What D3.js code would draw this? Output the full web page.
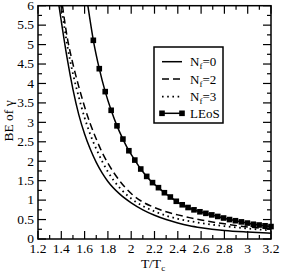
<!DOCTYPE html>
<html><head><meta charset="utf-8">
<script src="https://cdn.jsdelivr.net/npm/d3@7"></script>
<style>body{margin:0;background:#fff}svg{display:block}svg text{font-family:"Liberation Serif","Times New Roman","DejaVu Serif",serif}</style>
</head><body><svg id="c" width="281" height="274"></svg>
<script>
// Data
const nf0T = [1.38,1.40,1.45,1.50,1.55,1.60,1.65,1.70,1.75,1.80,1.90,2.00,2.10,2.20,2.30,2.40,2.50,2.60,2.80,3.00,3.20];
const nf0V = [6.0,5.6,4.65,3.85,3.2,2.7,2.3,1.97,1.70,1.48,1.16,0.93,0.75,0.61,0.50,0.41,0.34,0.29,0.22,0.18,0.15];
const nf2T = [1.41,1.45,1.50,1.55,1.60,1.65,1.70,1.75,1.80,1.90,2.00,2.10,2.20,2.30,2.40,2.50,2.60,2.80,3.00,3.20];
const nf2V = [6.0,5.2,4.5,3.92,3.4,2.95,2.57,2.23,1.95,1.5,1.17,0.95,0.81,0.70,0.62,0.55,0.49,0.39,0.31,0.26];
const nf3T = [1.40,1.45,1.50,1.55,1.60,1.65,1.70,1.75,1.80,1.90,2.00,2.10,2.20,2.30,2.40,2.50,2.60,2.80,3.00,3.20];
const nf3V = [6.0,5.0,4.25,3.65,3.12,2.68,2.32,2.0,1.73,1.32,1.04,0.85,0.71,0.60,0.52,0.46,0.41,0.33,0.27,0.22];
const leosLineT = [1.628];
const leosLineV = [6.0];
const leosT = [1.675,1.726,1.777,1.828,1.878,1.929,1.980,2.031,2.082,2.133,2.183,2.234,2.285,2.336,2.387,2.438,2.488,2.539,2.590,2.641,2.692,2.743,2.793,2.844,2.895,2.946,2.997,3.048,3.098,3.149,3.200];
const leosV = [5.11,4.38,3.79,3.31,2.91,2.57,2.27,2.03,1.80,1.61,1.45,1.32,1.19,1.08,0.97,0.88,0.81,0.75,0.70,0.66,0.62,0.58,0.54,0.50,0.47,0.44,0.41,0.38,0.36,0.34,0.32];
const xTicks = [1.2,1.4,1.6,1.8,2,2.2,2.4,2.6,2.8,3,3.2];
const yTicks = [0,0.5,1,1.5,2,2.5,3,3.5,4,4.5,5,5.5,6];
const legendLabels = ["0","2","3"];

const svg = d3.select("#c");
const L=38, R=271, T=5.7, B=239;
const x = d3.scaleLinear().domain([1.2,3.2]).range([L,R]);
const y = d3.scaleLinear().domain([0,6]).range([B,T]);

svg.append("clipPath").attr("id","clip").append("rect").attr("x",L).attr("y",T).attr("width",R-L).attr("height",B-T);

const xMinor = d3.range(12,33).map(d=>d/10);
const yMinor = d3.range(0,25).map(d=>d/4);
const g = svg.append("g");
function tk(x1,y1,x2,y2){g.append("line").attr("x1",x1).attr("y1",y1).attr("x2",x2).attr("y2",y2).attr("stroke","#000").attr("stroke-width",1.2);}
xMinor.forEach((d,i)=>{const len=(i%2===0)?8:4; const px=x(d); tk(px,B,px,B-len); tk(px,T,px,T+len);});
yMinor.forEach((d,i)=>{const len=(i%2===0)?8:4; const py=y(d); tk(L,py,L+len,py); tk(R,py,R-len,py);});

xTicks.forEach(d=>g.append("text").attr("x",x(d)).attr("y",253).attr("text-anchor","middle").attr("font-size",13.5).text(d));
yTicks.forEach(d=>g.append("text").attr("x",34).attr("y",y(d)+4.3).attr("text-anchor","end").attr("font-size",13.5).text(d));

const xt = svg.append("text").attr("x",153).attr("y",268).attr("text-anchor","middle").attr("font-size",13.5);
xt.append("tspan").text("T/T");
xt.append("tspan").attr("dy",3).attr("font-size",9).text("c");
svg.append("text").attr("transform","translate(13,121) rotate(-90)").attr("text-anchor","middle").attr("font-size",13.5).text("BE of γ");

const line = d3.line().x(d=>x(d[0])).y(d=>y(d[1])).curve(d3.curveMonotoneX);
const cg = svg.append("g").attr("clip-path","url(#clip)");
const zip=(a,b)=>a.map((t,i)=>[t,b[i]]);
cg.append("path").attr("d",line(zip(nf0T,nf0V))).attr("fill","none").attr("stroke","#000").attr("stroke-width",1.5);
cg.append("path").attr("d",line(zip(nf2T,nf2V))).attr("fill","none").attr("stroke","#000").attr("stroke-width",1.5).attr("stroke-dasharray","7,4");
cg.append("path").attr("d",line(zip(nf3T,nf3V))).attr("fill","none").attr("stroke","#000").attr("stroke-width",1.8).attr("stroke-dasharray","1.6,3.6");
const leosAll = zip(leosLineT,leosLineV).concat(zip(leosT,leosV));
cg.append("path").attr("d",line(leosAll)).attr("fill","none").attr("stroke","#000").attr("stroke-width",1.5);
const ms=5.6;
svg.append("g").selectAll("rect").data(zip(leosT,leosV)).join("rect")
  .attr("x",d=>x(d[0])-ms/2).attr("y",d=>y(d[1])-ms/2).attr("width",ms).attr("height",ms).attr("fill","#000");

svg.append("rect").attr("x",L).attr("y",T).attr("width",R-L).attr("height",B-T).attr("fill","none").attr("stroke","#000").attr("stroke-width",1.5);

const lg = svg.append("g");
lg.append("rect").attr("x",154).attr("y",47).attr("width",69).attr("height",76).attr("fill","#fff").attr("stroke","#000").attr("stroke-width",1.5);
const ly=[61.7,79,96.7,113.3];
const styles=[null,"7,4","1.6,3.6"];
legendLabels.forEach((lab,i)=>{
  const l=lg.append("line").attr("x1",162).attr("x2",182).attr("y1",ly[i]).attr("y2",ly[i]).attr("stroke","#000").attr("stroke-width",i===2?1.8:1.5);
  if(styles[i]) l.attr("stroke-dasharray",styles[i]);
  const t=lg.append("text").attr("x",190).attr("y",ly[i]+4.5).attr("font-size",13);
  t.append("tspan").text("N");
  t.append("tspan").attr("dy",3).attr("font-size",9).text("f");
  t.append("tspan").attr("dy",-3).text("="+lab);
});
lg.append("line").attr("x1",162).attr("x2",182).attr("y1",ly[3]).attr("y2",ly[3]).attr("stroke","#000").attr("stroke-width",1.5);
[162,182].forEach(px=>lg.append("rect").attr("x",px-ms/2).attr("y",ly[3]-ms/2).attr("width",ms).attr("height",ms).attr("fill","#000"));
lg.append("text").attr("x",190).attr("y",ly[3]+4.5).attr("font-size",13).text("LEoS");
</script></body></html>
